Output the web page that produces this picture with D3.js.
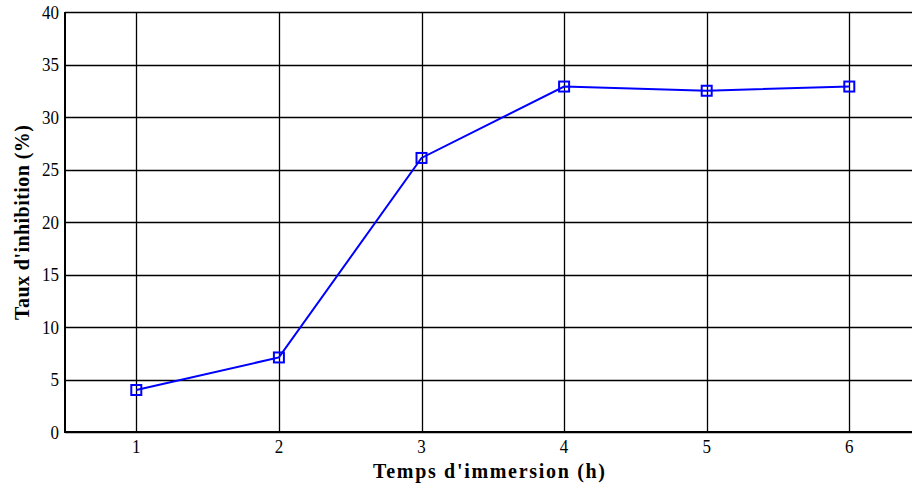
<!DOCTYPE html>
<html>
<head>
<meta charset="utf-8">
<script src="https://cdnjs.cloudflare.com/ajax/libs/d3/7.8.5/d3.min.js"></script>
<style>
  html, body { margin: 0; padding: 0; background: #fff; }
  svg { display: block; }
  text { font-family: "Liberation Serif", "Times New Roman", serif; fill: #000; }
</style>
</head>
<body>
<svg id="chart" width="912" height="487"></svg>
<script>
// Inhibition rate versus immersion time
const hours = [1, 2, 3, 4, 5, 6];
const inhibition = [4.0, 7.1, 26.1, 32.9, 32.5, 32.9];
const xTicks = [1, 2, 3, 4, 5, 6];
const yTicks = [0, 5, 10, 15, 20, 25, 30, 35, 40];

const svg = d3.select("#chart");
const plotLeft = 65, plotTop = 12, plotBottom = 432;

const x = d3.scaleLinear().domain([0.5, 6.5]).range([plotLeft, plotLeft + 142.6 * 6]);
const y = d3.scaleLinear().domain([0, 40]).range([plotBottom, plotTop]);

const plot = svg.append("g");

// grid
plot.selectAll("line.gy").data(yTicks).join("line")
  .attr("x1", plotLeft).attr("x2", 912)
  .attr("y1", d => Math.round(y(d)) + 0.5).attr("y2", d => Math.round(y(d)) + 0.5)
  .attr("stroke", "#000").attr("stroke-width", 1.3);
plot.selectAll("line.gx").data(xTicks).join("line")
  .attr("y1", plotTop).attr("y2", plotBottom)
  .attr("x1", d => Math.round(x(d)) + 0.5).attr("x2", d => Math.round(x(d)) + 0.5)
  .attr("stroke", "#000").attr("stroke-width", 1.3);

// axes frame
plot.append("line").attr("x1", plotLeft).attr("x2", plotLeft).attr("y1", plotTop).attr("y2", plotBottom + 1)
  .attr("stroke", "#000").attr("stroke-width", 2);
plot.append("line").attr("x1", plotLeft).attr("x2", 912).attr("y1", plotBottom).attr("y2", plotBottom)
  .attr("stroke", "#000").attr("stroke-width", 2);

// tick labels (slightly tall glyphs)
svg.selectAll("text.ty").data(yTicks).join("text")
  .attr("transform", d => `translate(${plotLeft - 6}, ${y(d) + 6.5}) scale(1, 1.15)`)
  .attr("text-anchor", "end").attr("font-size", 17)
  .text(d => d);
svg.selectAll("text.tx").data(xTicks).join("text")
  .attr("transform", d => `translate(${x(d)}, ${plotBottom + 21}) scale(1, 1.15)`)
  .attr("text-anchor", "middle").attr("font-size", 17)
  .text(d => d);

// axis titles
svg.append("text").attr("x", 489).attr("y", 478)
  .attr("text-anchor", "middle").attr("font-size", 20).attr("font-weight", "bold")
  .attr("textLength", 232).attr("lengthAdjust", "spacing")
  .text("Temps d'immersion (h)");
svg.append("text").attr("transform", `translate(29, 222.5) rotate(-90)`)
  .attr("text-anchor", "middle").attr("font-size", 20).attr("font-weight", "bold")
  .attr("textLength", 195).attr("lengthAdjust", "spacing")
  .text("Taux d'inhibition (%)");

// series
const pts = hours.map((h, i) => [h, inhibition[i]]);
plot.append("path").datum(pts)
  .attr("d", d3.line().x(d => x(d[0])).y(d => y(d[1])))
  .attr("fill", "none").attr("stroke", "#0000ff").attr("stroke-width", 2);
plot.selectAll("rect.m").data(pts).join("rect")
  .attr("x", d => x(d[0]) - 5).attr("y", d => y(d[1]) - 5)
  .attr("width", 10).attr("height", 10)
  .attr("fill", "none").attr("stroke", "#0000ff").attr("stroke-width", 2);
</script>
</body>
</html>
